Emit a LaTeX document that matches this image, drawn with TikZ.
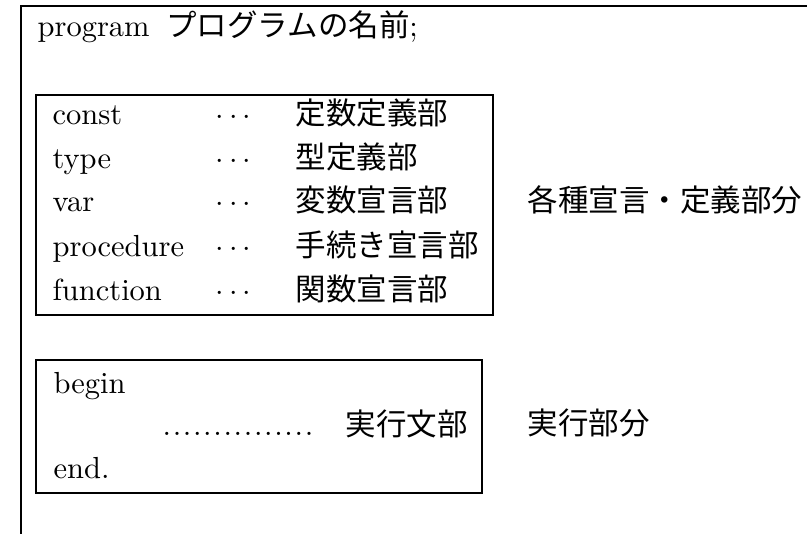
\documentclass[tikz,border=0pt]{standalone}
\usepackage{fontspec}
\newfontfamily\jp{Noto Sans CJK JP}
\newcommand\mydot{.\kern0.55pt}
\begin{document}
\begin{tikzpicture}[x=0.3279pt,y=-0.3279pt,
  txt/.style={anchor=base west,inner sep=0pt,font=\fontsize{10}{12}\selectfont},
  rule/.style={line width=0.42pt}]
\useasboundingbox (0,0) rectangle (807,534);
% outer frame
\coordinate (tr) at (807,6);
\coordinate (tl) at (21,6);
\coordinate (bl) at (21,534);
\draw[rule] (tr) -- (tl) -- (bl);
% heading
\node[txt] (prog) at (37,37) {program\hspace{5.5pt}{\jp プログラムの名前};};
% declaration box
\draw[rule] (36,95) rectangle (493,315);
\node[txt] (k1) at (52,125) {const};
\node[txt] (k2) at (52,168.5) {type};
\node[txt] (k3) at (52,212) {var};
\node[txt] (k4) at (52,256) {procedure};
\node[txt] (k5) at (52,300) {function};
\node[txt] (d1) at (215,125) {$\cdots$};
\node[txt] (d2) at (215,168.5) {$\cdots$};
\node[txt] (d3) at (215,212) {$\cdots$};
\node[txt] (d4) at (215,256) {$\cdots$};
\node[txt] (d5) at (215,300) {$\cdots$};
\node[txt] (j1) at (295,125) {\jp 定数定義部};
\node[txt] (j2) at (295,168.5) {\jp 型定義部};
\node[txt] (j3) at (295,212) {\jp 変数宣言部};
\node[txt] (j4) at (295,256) {\jp 手続き宣言部};
\node[txt] (j5) at (295,300) {\jp 関数宣言部};
\node[txt] (decl) at (527,212) {\jp 各種宣言・定義部分};
% execution box
\draw[rule] (36,360) rectangle (482,493);
\node[txt] (b1) at (53,393) {begin};
\node[txt] (dots) at (162,435) {\mydot\mydot\mydot\mydot\mydot\mydot\mydot\mydot\mydot\mydot\mydot\mydot\mydot\mydot.};
\node[txt] (stmt) at (345,435) {\jp 実行文部};
\node[txt] (e1) at (53,478) {end.};
\node[txt] (exec) at (527,434) {\jp 実行部分};
\end{tikzpicture}
\end{document}
